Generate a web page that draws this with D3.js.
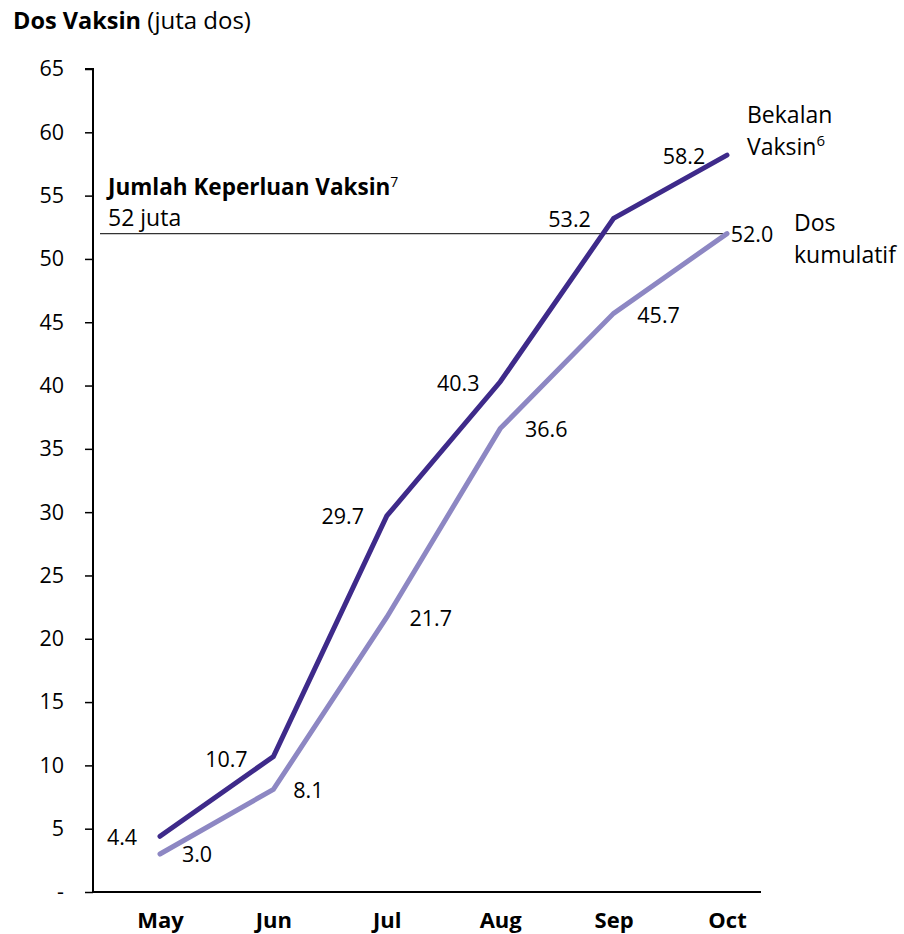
<!DOCTYPE html>
<html><head><meta charset="utf-8">
<script src="https://cdn.jsdelivr.net/npm/d3@7"></script>
<style>body{margin:0;background:#fff}svg{font-family:"Open Sans",sans-serif}</style>
</head><body>
<svg id="c" width="904" height="934"></svg>
<script>
const months = ["May","Jun","Jul","Aug","Sep","Oct"];
const supply = [4.4,10.7,29.7,40.3,53.2,58.2];
const cumulative = [3.0,8.1,21.7,36.6,45.7,52.0];
const yTicks = [0,5,10,15,20,25,30,35,40,45,50,55,60,65];
const requirement = 52;

const FONT = "Open Sans";
const svg = d3.select("#c");
const x = d3.scalePoint().domain(months).range([160,727]);
const y = d3.scaleLinear().domain([0,65]).range([892,69]);
const dark = "#3e2a8a", light = "#8d87c3";
const fsNum = 21.5, fsText = 23;

// title
const t = svg.append("text").attr("x",13).attr("y",29).attr("font-size",24).attr("fill","#000");
t.append("tspan").attr("font-weight","bold").attr("font-size",23.5).text("Dos Vaksin");
t.append("tspan").text(" (juta dos)");

// y axis
const yAxis = d3.axisLeft(y).tickValues(yTicks).tickSize(8).tickFormat(d=>d===0?"-":d);
const gy = svg.append("g").attr("transform","translate(93,0)").call(yAxis);
gy.select(".domain").attr("d","M-8,"+y(65)+"H0V"+y(0)).attr("stroke","#000").attr("stroke-width",2);
gy.selectAll(".tick line").attr("stroke","#000").attr("stroke-width",1.5);
gy.selectAll(".tick text").attr("font-size",fsNum).attr("font-family",FONT).attr("fill","#000").attr("x",-29);

// x axis
const xAxis = d3.axisBottom(x).tickSize(0).tickPadding(20);
const gx = svg.append("g").attr("transform","translate(0,892)").call(xAxis);
gx.select(".domain").attr("d","M92,0H761").attr("stroke","#000").attr("stroke-width",2);
gx.selectAll(".tick text").attr("font-size",22).attr("font-weight","bold").attr("font-family",FONT).attr("fill","#000")
  .attr("y",36).attr("dy",0);

// requirement line
svg.append("line").attr("x1",100).attr("x2",x("Oct")-4).attr("y1",y(requirement)).attr("y2",y(requirement))
  .attr("stroke","#333").attr("stroke-width",1.2);
const r = svg.append("text").attr("x",108).attr("y",195).attr("font-size",22.5).attr("font-weight","bold");
r.append("tspan").text("Jumlah Keperluan Vaksin");
r.append("tspan").attr("font-size",14).attr("font-weight","normal").attr("dy",-8).text("7");
svg.append("text").attr("x",108).attr("y",226).attr("font-size",fsText).text(requirement+" juta");

// lines
const line = d3.line().x((d,i)=>x(months[i])).y(d=>y(d));
svg.append("path").datum(cumulative).attr("d",line).attr("fill","none").attr("stroke",light).attr("stroke-width",5).attr("stroke-linecap","round");
svg.append("path").datum(supply).attr("d",line).attr("fill","none").attr("stroke",dark).attr("stroke-width",5).attr("stroke-linecap","round");

// value labels
const supOff = [[-38,9],[-47,10],[-44,8],[-42,9],[-44,8.5],[-43,9]];
const cumOff = [[37,8],[35,8.5],[44,9],[46,8.5],[45,9.5],[25,8.5]];
svg.selectAll(".sl").data(supply).join("text").attr("font-size",fsNum).attr("text-anchor","middle")
  .attr("x",(d,i)=>x(months[i])+supOff[i][0]).attr("y",(d,i)=>y(d)+supOff[i][1]).text(d=>d.toFixed(1));
svg.selectAll(".cl").data(cumulative).join("text").attr("font-size",fsNum).attr("text-anchor","middle")
  .attr("x",(d,i)=>x(months[i])+cumOff[i][0]).attr("y",(d,i)=>y(d)+cumOff[i][1]).text(d=>d.toFixed(1));

// series labels
svg.append("text").attr("x",747).attr("y",123).attr("font-size",fsText).text("Bekalan");
const v = svg.append("text").attr("x",747).attr("y",155).attr("font-size",fsText);
v.append("tspan").text("Vaksin");
v.append("tspan").attr("font-size",15).attr("dy",-9).text("6");
svg.append("text").attr("x",794).attr("y",231).attr("font-size",fsText).text("Dos");
svg.append("text").attr("x",794).attr("y",263).attr("font-size",fsText).text("kumulatif");
</script>
</body></html>
